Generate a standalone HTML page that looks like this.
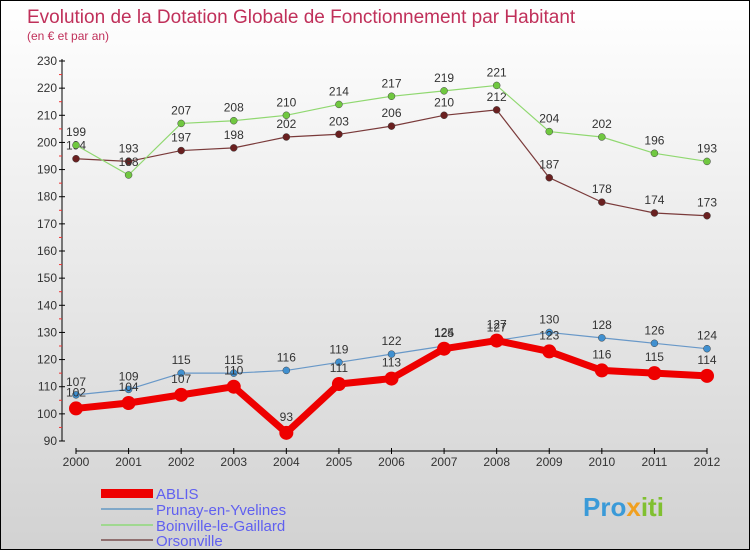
<!DOCTYPE html>
<html><head><meta charset="utf-8"><style>
body{margin:0;}
#c{width:750px;height:550px;position:relative;background:linear-gradient(#fff,#d2d2d2);border:1px solid #000;box-sizing:border-box;font-family:"Liberation Sans",sans-serif;overflow:hidden}
text{font-family:"Liberation Sans",sans-serif}
</style></head><body>
<div id="c">
<svg id="s" width="750" height="550">
<text x="26" y="22" font-size="19" fill="#c0305a">Evolution de la Dotation Globale de Fonctionnement par Habitant</text>
<text x="26" y="39" font-size="12" fill="#c0305a">(en € et par an)</text>
<g id="axes"></g><g id="series"></g>
<g>
<rect x="100" y="488" width="52" height="9" fill="#e00"/>
<text x="155" y="498" font-size="15" fill="#6060f0">ABLIS</text>
<rect x="100" y="507" width="52" height="2" fill="#80a8c8"/>
<text x="155" y="514" font-size="15" fill="#6060f0">Prunay-en-Yvelines</text>
<rect x="100" y="523" width="52" height="2" fill="#a0d890"/>
<text x="155" y="530" font-size="15" fill="#6060f0">Boinville-le-Gaillard</text>
<rect x="100" y="538" width="52" height="2" fill="#907070"/>
<text x="155" y="545" font-size="15" fill="#6060f0">Orsonville</text>
</g>
<text x="582" y="515" font-size="26" font-weight="bold" fill="#3a9ad8">Pro<tspan fill="#f0a020">x</tspan><tspan fill="#80c030">iti</tspan></text>
</svg></div>
<script>
const years=[2000,2001,2002,2003,2004,2005,2006,2007,2008,2009,2010,2011,2012];
const yTicks=[90,100,110,120,130,140,150,160,170,180,190,200,210,220,230];
const ablis=[102,104,107,110,93,111,113,124,127,123,116,115,114];
const prunay=[107,109,115,115,116,119,122,125,127,130,128,126,124];
const boinville=[199,188,207,208,210,214,217,219,221,204,202,196,193];
const orsonville=[194,193,197,198,202,203,206,210,212,187,178,174,173];
const NS='http://www.w3.org/2000/svg';
const xs=i=>75+i*(706-75)/12;
const ys=v=>440-(v-90)*(380/140);
function mk(t,a,p){const e=document.createElementNS(NS,t);for(const k in a)e.setAttribute(k,a[k]);p.appendChild(e);return e;}
const ax=document.getElementById('axes');
let yl=mk('line',{x1:61,y1:58,x2:61,y2:440,stroke:'#000'},ax);


let xl=mk('line',{x1:75,y1:450,x2:706,y2:450,stroke:'#000'},ax);


yTicks.forEach(v=>{
 mk('line',{x1:58,x2:64,y1:ys(v),y2:ys(v),stroke:'#000'},ax);
 if(v<230)mk('line',{x1:58,x2:61,y1:ys(v+5),y2:ys(v+5),stroke:'#e33'},ax);
 const t=mk('text',{x:56,y:ys(v)+4,'font-size':12,'text-anchor':'end',fill:'#333'},ax);t.textContent=v;
 
 
});
years.forEach((y,i)=>{
 mk('line',{x1:xs(i),x2:xs(i),y1:447,y2:453,stroke:'#000'},ax);
 const t=mk('text',{x:xs(i),y:465,'font-size':12,'text-anchor':'middle',fill:'#333'},ax);t.textContent=y;
 
 
});
const sg=document.getElementById('series');
function draw(data,name,color,dot,w,r,lblOff){
 const g=mk('g',{},sg);
 
 
 const pl=mk('polyline',{points:data.map((v,i)=>xs(i)+','+ys(v)).join(' '),fill:'none',stroke:color,'stroke-width':w,'stroke-linejoin':'round'},g);
 
 
 data.forEach((v,i)=>{
  const c=mk('circle',{cx:xs(i),cy:ys(v),r:r,fill:dot,stroke:'#444','stroke-width':r>5?0:0.5},g);
  
  
  const t=mk('text',{x:xs(i),y:ys(v)+lblOff,'font-size':12,'text-anchor':'middle',fill:'#333'},g);t.textContent=v;
  
  
 });
}
draw(orsonville,'orsonville','#7a3a3a','#6a2020',1.2,3.5,-9);
draw(boinville,'boinville','#90d870','#70c840',1.2,3.5,-9);
draw(prunay,'prunay','#6898c8','#4090d0',1.2,3.5,-9);
draw(ablis,'ablis','#ee0000','#e00',7,7,-12);
</script>
</body></html>
